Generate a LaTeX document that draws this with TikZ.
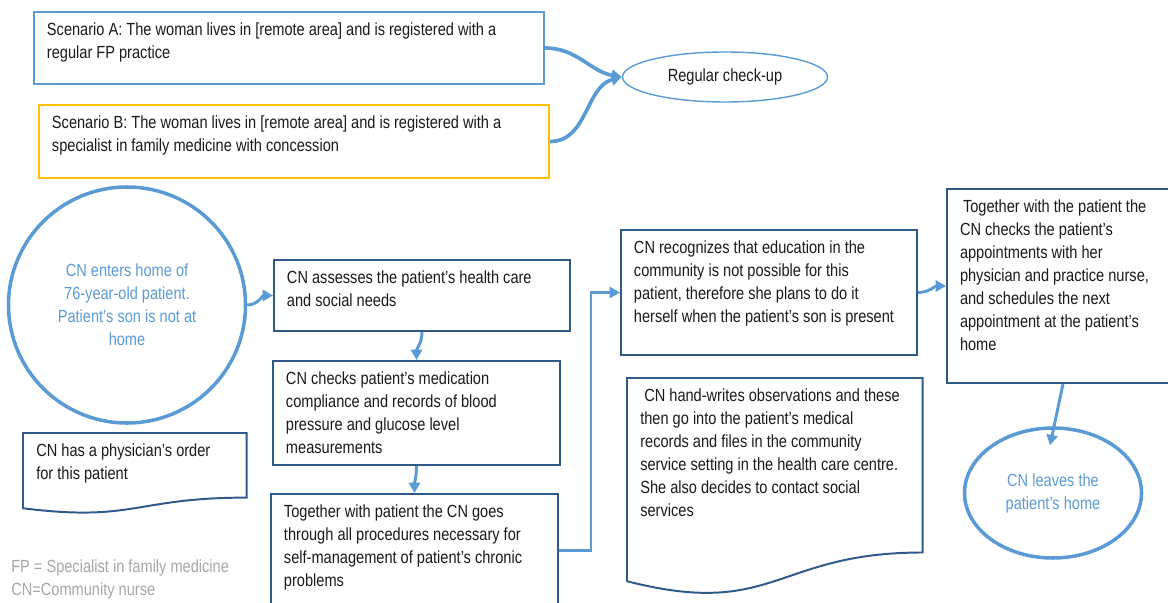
\documentclass[tikz,border=0pt]{standalone}
\usepackage{fontspec}
\setmainfont[FakeStretch=0.83]{Liberation Sans}
\usetikzlibrary{arrows.meta,shapes.geometric,calc}

\definecolor{lblue}{HTML}{5B9BD5}
\definecolor{navy}{HTML}{2E5A88}
\definecolor{gold}{HTML}{FFC000}
\definecolor{note}{HTML}{A6A6A6}
\definecolor{ink}{HTML}{1A1A1A}

\newlength\pxu \setlength\pxu{0.025cm}
\newcommand\boxfont{\fontsize{12.5pt}{16.4pt}\selectfont}
% text block of a box: width, height (in px), text
\newcommand\boxtxt[3]{\parbox[c][#2\pxu][t]{#1\pxu}{\raggedright\strut #3}}
% document shape drawn round a node
\newcommand\docoutline[1]{%
  \draw[docline] (#1.north west) -- (#1.north east)
    -- ($(#1.north east)!0.802!(#1.south east)$)
    .. controls ($(#1.north)!0.802!(#1.south)$) and ($(#1.north)!1.108!(#1.south)$)
    .. ($(#1.north west)!0.934!(#1.south west)$) -- cycle;}

\tikzset{
  stepbox/.style={draw=navy, line width=1.4pt, anchor=north west, inner xsep=0.325cm, inner ysep=0.175cm},
  scenbox/.style={stepbox, draw=#1},
  docbox/.style={anchor=north west, inner xsep=0.325cm, inner ysep=0.175cm},
  docline/.style={draw=navy, line width=1.4pt},
  oval/.style={ellipse, draw=lblue, line width=2.5pt, text=lblue, align=center, inner sep=0pt},
  flow/.style={draw=lblue, line width=2.1pt, -{Triangle[length=0.26cm,width=0.28cm]}},
}

\begin{document}
\begin{tikzpicture}[x=0.025cm, y=-0.025cm, font=\boxfont, text=ink]
\useasboundingbox (0,0) rectangle (1168,603);

% scenarios
\node[scenbox=lblue] (scenA) at (33,11) {\boxtxt{484}{58}{Scenario A: The woman lives in [remote area] and is registered with a\\regular FP practice}};
\node[scenbox=gold] (scenB) at (38,104) {\boxtxt{484}{59}{Scenario B: The woman lives in [remote area] and is registered with a\\specialist in family medicine with concession}};
\node[ellipse, draw=lblue, line width=1pt, minimum width=205*0.025cm, minimum height=50*0.025cm] (checkup) at (725,77) {\raisebox{4\pxu}{Regular check-up}};
\draw[flow, line width=2.6pt] (scenA.east) to[out=0, in=170] (checkup.west);
\draw[flow, line width=2.6pt] (scenB.east) to[out=0, in=195] (checkup.west);

% visit
\node[oval, minimum width=237*0.025cm, minimum height=236*0.025cm] (enter) at (127,305) {CN enters home of\\76-year-old patient.\\Patient’s son is not at\\home};
\node[stepbox] (assess) at (273,259) {\boxtxt{270}{57}{CN assesses the patient’s health care\\and social needs}};
\node[stepbox] (checks) at (272,360) {\boxtxt{261}{90}{CN checks patient’s medication\\compliance and records of blood\\pressure and glucose level\\measurements}};
\node[stepbox] (procs) at (270,493) {\boxtxt{261}{99}{Together with patient the CN goes\\through all procedures necessary for\\self-management of patient’s chronic\\problems}};
\node[stepbox] (educ) at (620,229) {\boxtxt{270}{111}{CN recognizes that education in the\\community is not possible for this\\patient, therefore she plans to do it\\herself when the patient’s son is present}};
\node[stepbox] (appts) at (946,188) {\boxtxt{206}{180}{\hspace{3\pxu}Together with the patient the\\CN checks the patient’s\\appointments with her\\physician and practice nurse,\\and schedules the next\\appointment at the patient’s\\home}};
\node[oval, minimum width=177*0.025cm, minimum height=130*0.025cm] (leave) at (1053,493) {CN leaves the\\patient’s home};

% documents
\node[docbox] (order) at (23,433) {\boxtxt{197}{66}{CN has a physician’s order\\for this patient}};
\docoutline{order}
\node[docbox] (notes) at (627,378) {\boxtxt{269}{203}{\hspace{4\pxu}CN hand-writes observations and these\\then go into the patient’s medical\\records and files in the community\\service setting in the health care centre.\\She also decides to contact social\\services}};
\docoutline{notes}

\draw[flow] (enter.east) to[out=0, in=180] (assess.west);
\draw[flow] (assess.south) to[out=-90, in=90] (checks.north);
\draw[flow] (checks.south) to[out=-90, in=90] (procs.north);
\draw[flow] (procs.east) -- ++(32,0) |- (educ.west);
\draw[flow] (educ.east) to[out=0, in=180] (appts.west);
\draw[flow] (appts.south) -- ([xshift=-0.075cm, yshift=-0.475cm]leave.north);

\node[anchor=north west, inner sep=0pt, text=note, align=left, font=\fontsize{12.5pt}{17pt}\selectfont] (legend) at (11,559) {FP = Specialist in family medicine\\CN=Community nurse};
\end{tikzpicture}
\end{document}
